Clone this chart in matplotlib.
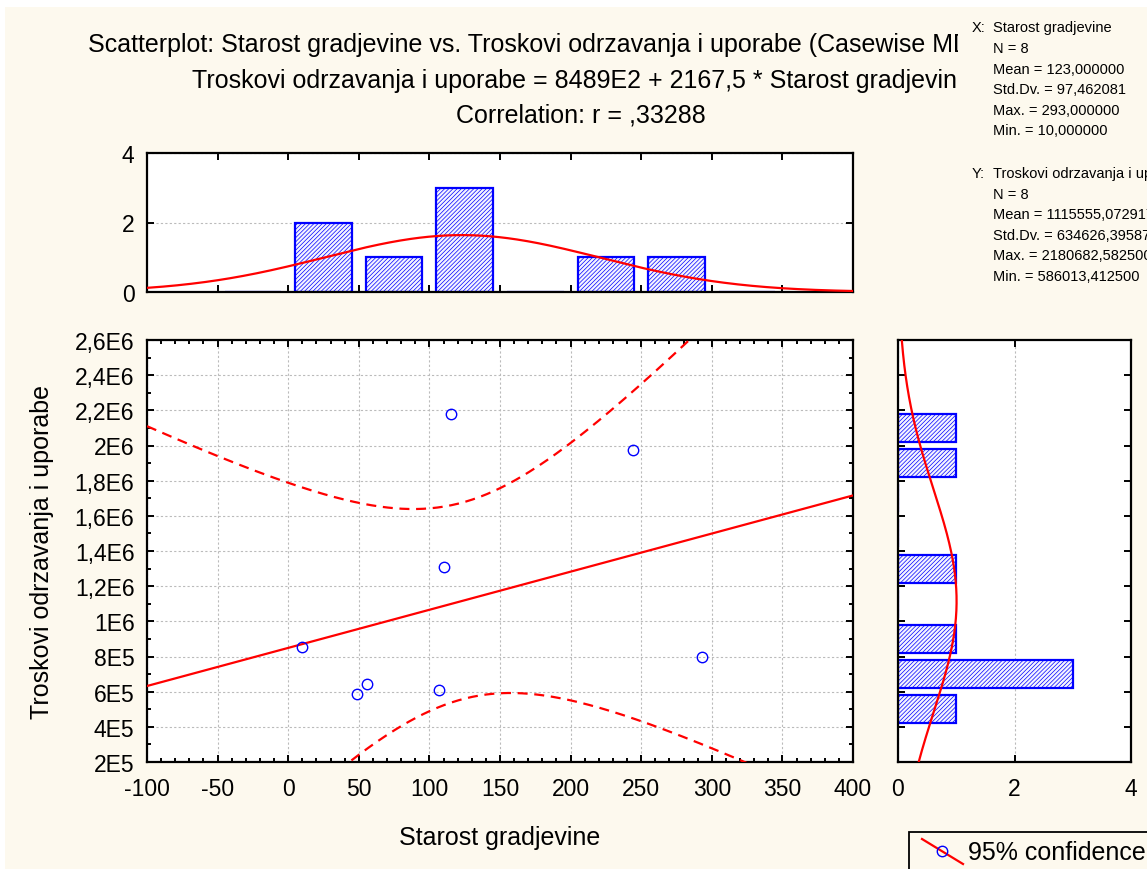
import numpy as np
import matplotlib
matplotlib.use("Agg")
import matplotlib.pyplot as plt
from matplotlib.patches import Rectangle
from matplotlib.lines import Line2D
from matplotlib.ticker import MultipleLocator, FuncFormatter

plt.rcParams['font.family'] = ['Liberation Sans', 'DejaVu Sans']
plt.rcParams['hatch.linewidth'] = 0.5

# ---------------- data ----------------
starost = [10, 49, 56, 107, 110, 115, 244, 293]
troskovi = [854000, 586013, 644000, 610000, 1309000, 2180683, 1974000, 797000]

x_label = "Starost gradjevine"
y_label = "Troskovi odrzavanja i uporabe"

# summary statistics displayed in the chart
n_cases = 8
x_mean, x_sd = 123.0, 97.462081
y_mean, y_sd = 1115555.072917, 634626.395875
r_corr = 0.33288
t_975_df6 = 2.446912

# histogram bins
x_bin_centers = [-25, 25, 75, 125, 175, 225, 275, 325]
x_bin_counts = [0, 2, 1, 3, 0, 1, 1, 0]
y_bin_centers = [500000, 700000, 900000, 1100000, 1300000, 1500000, 1700000, 1900000, 2100000]
y_bin_counts = [1, 3, 1, 0, 1, 0, 0, 1, 1]

title_lines = [
    "Scatterplot: Starost gradjevine vs. Troskovi odrzavanja i uporabe (Casewise MD deletion)",
    "Troskovi odrzavanja i uporabe = 8489E2 + 2167,5 * Starost gradjevine",
    "Correlation: r = ,33288",
]
stats_x = ["Starost gradjevine", "N = 8", "Mean = 123,000000", "Std.Dv. = 97,462081",
           "Max. = 293,000000", "Min. = 10,000000"]
stats_y = ["Troskovi odrzavanja i uporabe", "N = 8", "Mean = 1115555,072917",
           "Std.Dv. = 634626,395875", "Max. = 2180682,582500", "Min. = 586013,412500"]
legend_label = "95% confidence"

# ---------------- figure ----------------
W, H = 1147, 870
BG = '#FDF9EE'
FS = 18
TFS = 16.5
fig = plt.figure(figsize=(W / 100, H / 100), dpi=100, facecolor='white')
fig.patches.append(Rectangle((5 / W, 0), 1, 1 - 8 / H, transform=fig.transFigure,
                             facecolor=BG, edgecolor='none', zorder=-10))


def fx(px):
    return px / W


def fy(py):
    return 1 - py / H


def ax_rect(l, t, r, b):
    return [fx(l), fy(b), fx(r) - fx(l), fy(t) - fy(b)]


ax = fig.add_axes(ax_rect(147, 341, 853, 763))
axt = fig.add_axes(ax_rect(147, 154, 853, 293))
axr = fig.add_axes(ax_rect(898, 341, 1131, 763))

BLUE = '#0000FF'
RED = '#FF0000'


def style(a):
    for s in a.spines.values():
        s.set_linewidth(1.6)
        s.set_color('black')
    a.tick_params(which='both', direction='in', top=True, right=True, width=1.4, labelsize=TFS)
    a.tick_params(which='major', length=5)
    a.tick_params(which='minor', length=3)
    a.tick_params(axis='y', pad=9)
    a.tick_params(axis='x', pad=11)
    a.set_facecolor('white')


def sci_fmt(v, pos):
    if v <= 0:
        return "0"
    e = int(np.floor(np.log10(v) + 1e-9))
    m = v / 10 ** e
    s = ("%.1f" % m).rstrip('0').rstrip('.')
    return s.replace('.', ',') + "E%d" % e


# ---- main scatter ----
style(ax)
xmin, xmax, ymin, ymax = -100, 400, 200000, 2600000
ax.set_xlim(xmin, xmax)
ax.set_ylim(ymin, ymax)
ax.xaxis.set_major_locator(MultipleLocator(50))
ax.xaxis.set_minor_locator(MultipleLocator(10))
ax.yaxis.set_major_locator(MultipleLocator(200000))
ax.yaxis.set_minor_locator(MultipleLocator(100000))
ax.yaxis.set_major_formatter(FuncFormatter(sci_fmt))
ax.xaxis.set_major_formatter(FuncFormatter(lambda v, p: "%d" % v))
ax.grid(True, which='major', color='#BBBBBB', linestyle=(0, (2, 2)), linewidth=0.8)
ax.set_axisbelow(True)

slope = r_corr * y_sd / x_sd
intercept = y_mean - slope * x_mean
s_res = y_sd * np.sqrt((1 - r_corr ** 2) * (n_cases - 1) / (n_cases - 2))
sxx = (n_cases - 1) * x_sd ** 2
xx = np.linspace(xmin, xmax, 400)
yhat = intercept + slope * xx
hw = t_975_df6 * s_res * np.sqrt(1 / n_cases + (xx - x_mean) ** 2 / sxx)
ax.plot(xx, yhat, color=RED, lw=1.6, zorder=3)
ax.plot(xx, yhat + hw, color=RED, lw=1.6, dashes=(4.5, 3), zorder=3)
ax.plot(xx, yhat - hw, color=RED, lw=1.6, dashes=(4.5, 3), zorder=3)
ax.plot(starost, troskovi, linestyle='none', marker='o', markersize=7.5,
        markerfacecolor='none', markeredgecolor=BLUE, markeredgewidth=1.0, zorder=4)

# ---- top histogram ----
style(axt)
axt.set_xlim(xmin, xmax)
axt.set_ylim(0, 4)
axt.xaxis.set_major_locator(MultipleLocator(50))
axt.yaxis.set_major_locator(MultipleLocator(2))
axt.tick_params(labelbottom=False)
axt.grid(True, axis='y', color='#BBBBBB', linestyle=(0, (2, 2)), linewidth=0.8)
axt.set_axisbelow(True)
axt.bar(x_bin_centers, x_bin_counts, width=40, facecolor='#F4F4FF', edgecolor=BLUE,
        hatch='////////', linewidth=1.6, zorder=2)
xg = np.linspace(xmin, xmax, 400)
axt.plot(xg, n_cases * 50 * np.exp(-0.5 * ((xg - x_mean) / x_sd) ** 2) / (x_sd * np.sqrt(2 * np.pi)),
         color=RED, lw=1.6, zorder=3)

# ---- right histogram ----
style(axr)
axr.set_ylim(ymin, ymax)
axr.set_xlim(0, 4)
axr.yaxis.set_major_locator(MultipleLocator(200000))
axr.xaxis.set_major_locator(MultipleLocator(2))
axr.tick_params(labelleft=False)
axr.grid(True, axis='x', color='#BBBBBB', linestyle=(0, (2, 2)), linewidth=0.8)
axr.set_axisbelow(True)
axr.barh(y_bin_centers, y_bin_counts, height=160000, facecolor='#F4F4FF', edgecolor=BLUE,
         hatch='////////', linewidth=1.6, zorder=2)
yg = np.linspace(ymin, ymax, 400)
axr.plot(n_cases * 200000 * np.exp(-0.5 * ((yg - y_mean) / y_sd) ** 2) / (y_sd * np.sqrt(2 * np.pi)), yg,
         color=RED, lw=1.6, zorder=3)

# ---- titles ----
title_y = [45, 81, 116]
for t, py in zip(title_lines, title_y):
    fig.text(fx(581), fy(py), t, ha='center', va='center', fontsize=FS)

# panel covering right part of title
fig.patches.append(Rectangle((fx(958), fy(300)), 1, 292 / H, transform=fig.transFigure,
                             facecolor=BG, edgecolor='none', zorder=5))

SFS = 10.5
sy = [28, 49, 70, 90, 111, 131]
fig.text(fx(972), fy(sy[0]), "X:", ha='left', va='center', fontsize=SFS, zorder=6)
for t, py in zip(stats_x, sy):
    fig.text(fx(993), fy(py), t, ha='left', va='center', fontsize=SFS, zorder=6)
sy2 = [174, 195, 215, 236, 256, 277]
fig.text(fx(972), fy(sy2[0]), "Y:", ha='left', va='center', fontsize=SFS, zorder=6)
for t, py in zip(stats_y, sy2):
    fig.text(fx(993), fy(py), t, ha='left', va='center', fontsize=SFS, zorder=6)

# axis labels
fig.text(fx(500), fy(838), x_label, ha='center', va='center', fontsize=FS)
fig.text(fx(42), fy(552), y_label, ha='center', va='center', rotation=90, fontsize=FS)

# legend box (partially outside)
fig.patches.append(Rectangle((fx(909), fy(900)), 1, (900 - 833) / H, transform=fig.transFigure,
                             facecolor=BG, edgecolor='black', linewidth=1.3, zorder=5))
fig.lines.append(Line2D([fx(922), fx(963)], [fy(840), fy(865)], transform=fig.transFigure,
                        color=RED, lw=1.6, zorder=6))
fig.lines.append(Line2D([fx(942)], [fy(852)], transform=fig.transFigure, marker='o',
                        markersize=7.5, markerfacecolor='none', markeredgecolor=BLUE,
                        markeredgewidth=1.0, zorder=7))
fig.text(fx(968), fy(853), legend_label, ha='left', va='center', fontsize=FS, zorder=7)

fig.savefig("out.png", dpi=100, facecolor=fig.get_facecolor())
